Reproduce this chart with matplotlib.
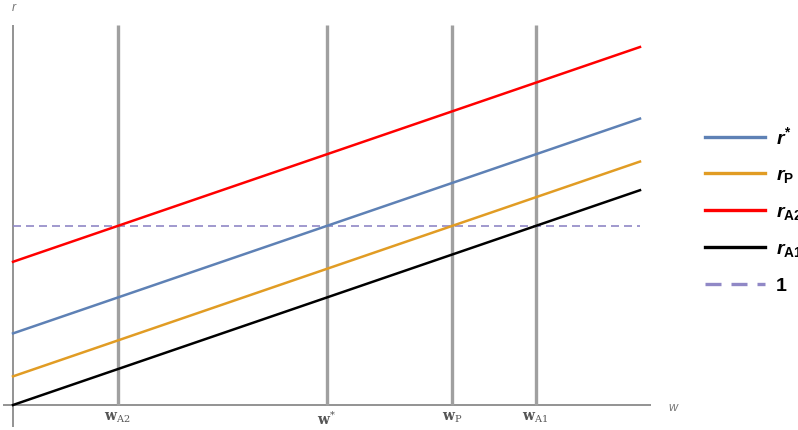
import matplotlib

matplotlib.use("Agg")
import matplotlib.pyplot as plt
import numpy as np

plt.rcParams["font.family"] = ["Liberation Sans", "DejaVu Sans"]
plt.rcParams["mathtext.fontset"] = "custom"
plt.rcParams["mathtext.it"] = "Liberation Sans:italic:bold"
plt.rcParams["mathtext.rm"] = "Liberation Sans:bold"
plt.rcParams["mathtext.tt"] = "DejaVu Serif:bold"
plt.rcParams["mathtext.sf"] = "DejaVu Serif"

# ---- Data (w from 0 to 1, all four r lines are parallel) ----
W = np.array([0.0, 1.0])
R_STAR = np.array([0.40, 1.60])
R_P = np.array([0.16, 1.36])
R_A2 = np.array([0.80, 2.00])
R_A1 = np.array([0.00, 1.20])
ONE = np.array([1.0, 1.0])

GRID_W = [1 / 6, 0.5, 0.7, 5 / 6]
GRID_LABELS = [r"$\mathtt{w}_{\mathsf{A2}}$", r"$\mathtt{w}^{\mathsf{*}}$",
               r"$\mathtt{w}_{\mathsf{P}}$", r"$\mathtt{w}_{\mathsf{A1}}$"]

# ---- Palette ----
BLUE = "#5E81B5"
ORANGE = "#E19C24"
RED = "#FF0000"
BLACK = "#000000"
LAVENDER = "#9088C6"
AXIS_GREY = "#8A8A8A"
GRID_GREY = "#A0A0A0"

fig = plt.figure(figsize=(7.98, 4.30), dpi=100)
ax = fig.add_axes([3 / 798, 3 / 430, 648 / 798, 402 / 430])
ax.set_xlim(-10 / 627, 638 / 627)
ax.set_ylim(-22 / 179, 380 / 179)
ax.axis("off")

# axes and grid lines
ax.plot([-10 / 627, 638 / 627], [0, 0], color=AXIS_GREY, lw=1.3, zorder=1)
ax.plot([0, 0], [-22 / 179, 380 / 179], color=AXIS_GREY, lw=1.3, zorder=1)
ax.vlines(GRID_W, 0, 380 / 179, color=GRID_GREY, lw=2.4, zorder=1)

for wv, lab in zip(GRID_W, GRID_LABELS):
    ax.text(wv, -0.03, lab, ha="center", va="top", fontsize=10, color="#555555")

lines = [
    ax.plot(W, R_STAR, color=BLUE, lw=1.8, zorder=3)[0],
    ax.plot(W, R_P, color=ORANGE, lw=1.8, zorder=3)[0],
    ax.plot(W, R_A2, color=RED, lw=1.8, zorder=3)[0],
    ax.plot(W, R_A1, color=BLACK, lw=1.8, zorder=3)[0],
    ax.plot(W, ONE, color=LAVENDER, lw=1.2, ls=(0, (4.8, 3)), zorder=2)[0],
]

fig.text(12 / 798, 1 - 8 / 430, "r", fontsize=9, style="italic", color="#777777",
         ha="left", va="center")
fig.text(668 / 798, 1 - 408 / 430, "w", fontsize=9, style="italic", color="#777777",
         ha="left", va="center")

labels = [r"$r^{*}$", r"$r_{\mathrm{P}}$", r"$r_{\mathrm{A2}}$", r"$r_{\mathrm{A1}}$", "1"]
leg = fig.legend(lines, labels, loc="upper left", bbox_to_anchor=(705 / 798, 1 - 126 / 430),
                 frameon=False, prop={"size": 14, "weight": "bold"},
                 handlelength=3.1, handletextpad=0.55, labelspacing=0.95,
                 borderaxespad=0, borderpad=0)
for h in leg.get_lines():
    h.set_linewidth(2.4)

fig.savefig("out.png", dpi=100)
